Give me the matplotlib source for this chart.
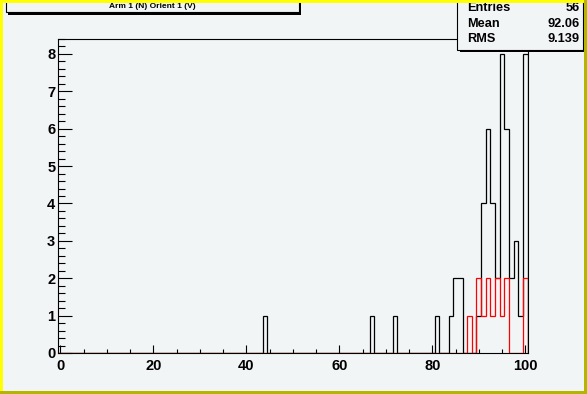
import matplotlib
matplotlib.use("Agg")
import matplotlib.pyplot as plt
from matplotlib.patches import Rectangle
from matplotlib.ticker import MultipleLocator
import numpy as np

# histogram contents (bin centre -> count), bins of width 1 from -0.5 to 100.5
black_bins = [44, 67, 72, 81, 84, 85, 86, 90, 91, 92, 93, 94, 95, 96, 97, 98, 99, 100]
black_counts = [1, 1, 1, 1, 1, 2, 2, 1, 4, 6, 4, 2, 8, 6, 2, 3, 1, 8]
red_bins = [88, 90, 91, 92, 93, 94, 95, 96, 100]
red_counts = [1, 2, 1, 2, 1, 2, 1, 2, 2]

title = "Arm 1 (N) Orient 1 (V)"
stats_labels = ["Entries", "Mean", "RMS"]
stats_values = ["56", "92.06", "9.139"]

W, H = 587, 394
bg = "#f2f5f6"
plt.rcParams["font.family"] = ["Liberation Sans", "DejaVu Sans"]
plt.rcParams["font.weight"] = "bold"

edges = np.arange(-0.5, 101, 1.0)


def fill(bins, counts):
    h = np.zeros(len(edges) - 1)
    h[np.searchsorted(edges, bins) - 1] = counts
    return h


def fx(x):
    return x / W


def fy(y):
    return 1 - y / H


fig = plt.figure(figsize=(W / 100, H / 100), dpi=100, facecolor=bg)
ax = fig.add_axes([fx(58), fy(353), (527.6 - 58) / W, (353 - 39) / H])
ax.set_facecolor(bg)

ax.stairs(fill(black_bins, black_counts), edges, color="black", lw=0.9, zorder=3)
ax.stairs(fill(red_bins, red_counts), edges, color="red", lw=0.9, zorder=4)

ax.set_xlim(-0.5, 100.5)
ax.set_ylim(0, 8.4)
ax.xaxis.set_major_locator(MultipleLocator(20))
ax.xaxis.set_minor_locator(MultipleLocator(5))
ax.yaxis.set_major_locator(MultipleLocator(1))
ax.yaxis.set_minor_locator(MultipleLocator(0.2))
ax.tick_params(axis="x", which="major", direction="in", length=6, width=0.8, pad=4, labelsize=10.5)
ax.tick_params(axis="x", which="minor", direction="in", length=3, width=0.8)
ax.tick_params(axis="y", which="major", direction="in", length=10, width=0.8, pad=2, labelsize=10.5)
ax.tick_params(axis="y", which="minor", direction="in", length=5, width=0.8)
for s in ax.spines.values():
    s.set_linewidth(0.8)


def box(x0, y0, x1, y1, sh=2.5):
    fig.add_artist(Rectangle((fx(x0 + sh), fy(y1 + sh)), (x1 - x0) / W, (y1 - y0) / H,
                             transform=fig.transFigure, facecolor="black", edgecolor="none", zorder=5))
    fig.add_artist(Rectangle((fx(x0), fy(y1)), (x1 - x0) / W, (y1 - y0) / H,
                             transform=fig.transFigure, facecolor=bg, edgecolor="black", lw=0.8, zorder=6))


# title box
box(5.5, -5, 298.5, 12)
fig.text(fx(152), fy(7), title, ha="center", va="center", fontsize=6, fontweight="bold", zorder=7)

# stats box
box(457, -5, 583, 49.5)
for i, (lab, val) in enumerate(zip(stats_labels, stats_values)):
    y = 8.3 + i * 15.6
    fig.text(fx(467), fy(y), lab, ha="left", va="center", fontsize=9.2, fontweight="bold", zorder=7)
    fig.text(fx(580), fy(y), val, ha="right", va="center", fontsize=9.2, fontweight="bold", zorder=7)

# canvas bevel border
for (x0, y0, x1, y1, c) in [(0, 0, W, 2.5, "#ffff00"), (0, 0, 3, H, "#ffff00"),
                            (0, H - 3.5, W, H, "#b5b500"), (W - 3.5, 0, W, H, "#b5b500")]:
    fig.add_artist(Rectangle((fx(x0), fy(y1)), (x1 - x0) / W, (y1 - y0) / H,
                             transform=fig.transFigure, facecolor=c, edgecolor="none", zorder=8))

fig.savefig("out.png", dpi=100, facecolor=bg)
